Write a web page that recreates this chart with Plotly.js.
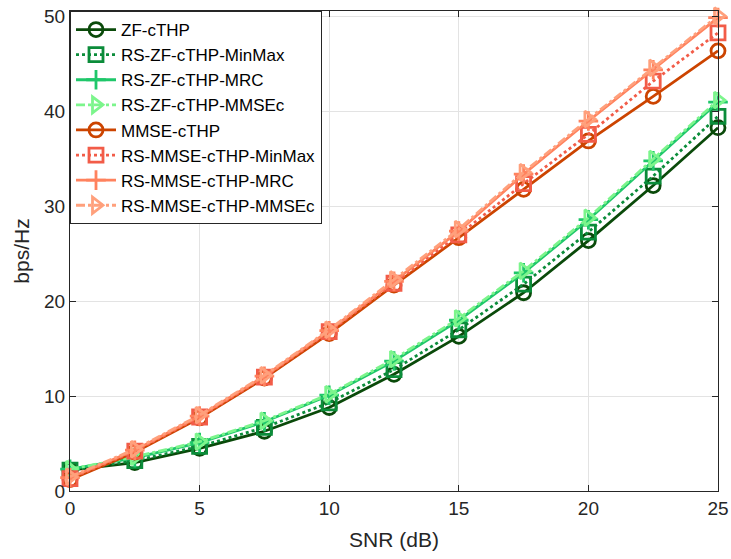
<!DOCTYPE html>
<html><head><meta charset="utf-8">
<script src="https://cdn.plot.ly/plotly-3.0.1.min.js"></script>
<style>body{margin:0;background:#fff}#c{width:731px;height:559px}</style>
</head><body><div id="c"></div>
<script>
const snr = [0, 2.5, 5, 7.5, 10, 12.5, 15, 17.5, 20, 22.5, 25];
const zf          = [2.2, 3.0, 4.5, 6.3, 8.8, 12.3, 16.3, 20.9, 26.4, 32.2, 38.3];
const rsZfMinMax  = [2.2, 3.2, 4.7, 6.7, 9.3, 12.8, 17.0, 21.8, 27.3, 33.2, 39.5];
const rsZfMrc     = [2.3, 3.5, 5.1, 7.3, 10.1, 13.7, 18.0, 23.0, 28.6, 34.8, 41.0];
const rsZfMmsec   = [2.3, 3.6, 5.2, 7.4, 10.2, 13.9, 18.2, 23.2, 28.8, 35.0, 41.2];
const mmse        = [1.2, 4.1, 7.7, 11.9, 16.6, 21.7, 26.7, 31.8, 36.9, 41.6, 46.4];
const rsMmseMinMax= [1.3, 4.2, 7.8, 12.0, 16.8, 21.9, 27.0, 32.4, 37.6, 43.2, 48.3];
const rsMmseMrc   = [1.4, 4.3, 7.9, 12.1, 16.9, 22.1, 27.4, 33.4, 39.0, 44.4, 49.9];
const rsMmseMmsec = [1.5, 4.4, 8.0, 12.2, 17.0, 22.3, 27.6, 33.6, 39.2, 44.6, 50.1];
const names = ['ZF-cTHP','RS-ZF-cTHP-MinMax','RS-ZF-cTHP-MRC','RS-ZF-cTHP-MMSEc',
               'MMSE-cTHP','RS-MMSE-cTHP-MinMax','RS-MMSE-cTHP-MRC','RS-MMSE-cTHP-MMSEc'];
const series = [zf, rsZfMinMax, rsZfMrc, rsZfMmsec, mmse, rsMmseMinMax, rsMmseMrc, rsMmseMmsec];
const colors = ['#0a4a0a','#0b8c3a','#1fc76a','#7cf58c','#cc4400','#f25c48','#ff825e','#ffa07c'];
const dashes = ['solid','dot','solid','dashdot','solid','dot','solid','dashdot'];
const symbols = ['circle-open','square-open','cross-thin-open','triangle-right-open',
                 'circle-open','square-open','cross-thin-open','triangle-right-open'];
const traces = series.map((y,i)=>({
  x: snr, y: y, name: names[i], type:'scatter', mode:'lines+markers', cliponaxis:false,
  line:{color:colors[i], width:2.8, dash:dashes[i]},
  marker:{symbol:symbols[i], size:14, color:colors[i], line:{color:colors[i], width:2.8}}
}));
const layout = {
  width:731, height:559, margin:{l:70, r:13, t:11, b:68},
  paper_bgcolor:'#fff', plot_bgcolor:'#fff',
  font:{family:'Liberation Sans, Arial, sans-serif', size:18, color:'#262626'},
  showlegend:true,
  legend:{x:0, y:1, xanchor:'left', yanchor:'top', bgcolor:'#fff', bordercolor:'#262626', borderwidth:1,
          font:{size:17, color:'#000'}, tracegroupgap:0, itemwidth:40},
  xaxis:{range:[0,25], tickvals:[0,5,10,15,20,25], showgrid:true, gridcolor:'#e3e3e3', gridwidth:1,
         zeroline:false, showline:true, linecolor:'#262626', linewidth:1, mirror:'ticks',
         ticks:'inside', ticklen:6, tickcolor:'#262626',
         tickfont:{size:19}, title:{text:'SNR (dB)', font:{size:21}, standoff:14}},
  yaxis:{range:[0,50.6], tickvals:[0,10,20,30,40,50], showgrid:true, gridcolor:'#e3e3e3', gridwidth:1,
         zeroline:false, showline:true, linecolor:'#262626', linewidth:1, mirror:'ticks',
         ticks:'inside', ticklen:6, tickcolor:'#262626',
         tickfont:{size:19}, title:{text:'bps/Hz', font:{size:21}, standoff:8}}
};
Plotly.newPlot('c', traces, layout, {displayModeBar:false, staticPlot:true});
</script></body></html>
